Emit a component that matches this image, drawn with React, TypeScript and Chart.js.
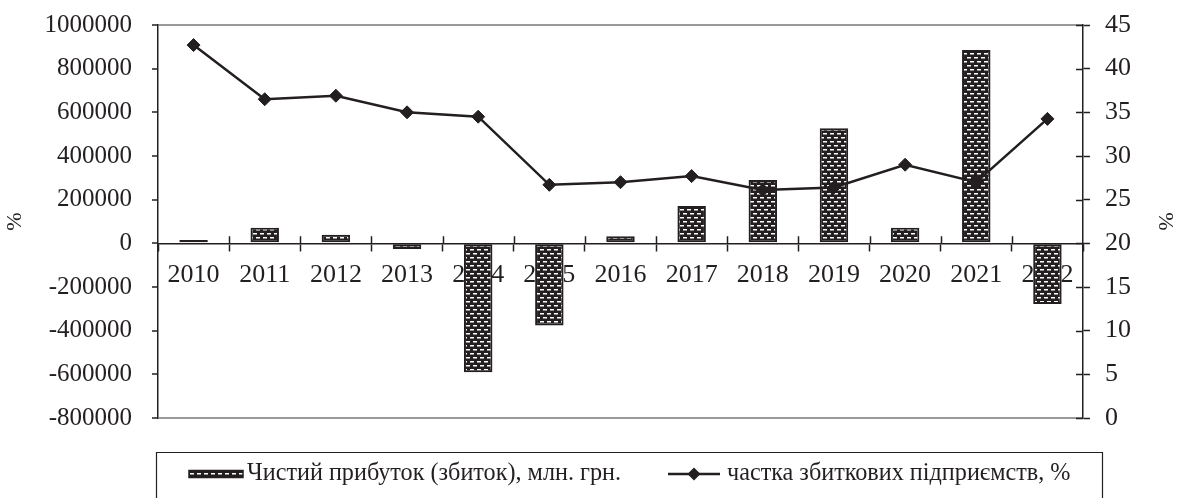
import { useEffect, useRef } from 'react';
import { Chart, registerables } from 'chart.js';

Chart.register(...registerables);

const years = ['2010', '2011', '2012', '2013', '2014', '2015', '2016', '2017', '2018', '2019', '2020', '2021', '2022'];
const netProfit = [15000, 71000, 39000, -26000, -591000, -376000, 33000, 171000, 290000, 527000, 71000, 886000, -278000];
const lossShare = [42.7, 36.5, 36.9, 35.0, 34.5, 26.7, 27.0, 27.7, 26.1, 26.4, 29.0, 27.0, 34.25];
const leftAxis = [-800000, 1000000, 200000];
const rightAxis = [0, 45, 5];
const profitLabel = 'Чистий прибуток (збиток), млн. грн.';
const shareLabel = 'частка збиткових підприємств, %';
const axisTitle = '%';

const INK = '#231f20';
const FONT = '"Liberation Serif", "Times New Roman", serif';

function makePattern(): CanvasPattern | string {
  const pc = document.createElement('canvas');
  pc.width = 14;
  pc.height = 8;
  const p = pc.getContext('2d');
  if (!p) return INK;
  p.fillStyle = INK;
  p.fillRect(0, 0, 14, 8);
  p.fillStyle = '#ffffff';
  p.fillRect(1, 1, 4, 1.5);
  p.fillRect(8, 1, 4, 1.5);
  p.fillRect(0, 5, 1, 1.5);
  p.fillRect(4, 5, 4, 1.5);
  p.fillRect(11, 5, 3, 1.5);
  const pat = p.createPattern(pc, 'repeat');
  return pat || INK;
}

export default function App() {
  const ref = useRef<HTMLCanvasElement>(null);

  useEffect(() => {
    const canvas = ref.current;
    if (!canvas) return;
    const pattern = makePattern();

    const innerTicks = {
      id: 'innerTicks',
      beforeDatasetsDraw(chart: any) {
        const { ctx, chartArea, scales } = chart;
        const x = scales.x;
        const y = scales.y;
        const y1 = scales.y1;
        const zero = y.getPixelForValue(0);
        ctx.save();
        ctx.strokeStyle = INK;
        ctx.lineWidth = 1.5;
        ctx.beginPath();
        for (let i = 1; i < years.length; i++) {
          const px = Math.round((x.getPixelForValue(i) + x.getPixelForValue(i - 1)) / 2) + 0.5;
          ctx.moveTo(px, zero - 7);
          ctx.lineTo(px, zero);
        }
        for (let v = rightAxis[0]; v <= rightAxis[1]; v += rightAxis[2]) {
          const py = Math.round(y1.getPixelForValue(v)) + 0.5;
          ctx.moveTo(chartArea.right - 7, py);
          ctx.lineTo(chartArea.right, py);
        }
        ctx.stroke();
        ctx.restore();
      },
    };

    const legendBox = {
      id: 'legendBox',
      afterDraw(chart: any) {
        const { ctx, chartArea } = chart;
        const left = chartArea.left - 2;
        const right = chartArea.right + 19;
        const top = chartArea.bottom + 34;
        const cy = top + 22;
        ctx.save();
        ctx.strokeStyle = INK;
        ctx.lineWidth = 1.2;
        ctx.beginPath();
        ctx.moveTo(left + 0.5, chart.height + 5);
        ctx.lineTo(left + 0.5, top + 0.5);
        ctx.lineTo(right + 0.5, top + 0.5);
        ctx.lineTo(right + 0.5, chart.height + 5);
        ctx.stroke();

        // bar swatch
        ctx.fillStyle = pattern;
        ctx.fillRect(left + 33, cy - 3.5, 54, 7);
        ctx.lineWidth = 1.5;
        ctx.strokeRect(left + 33, cy - 3.5, 54, 7);

        ctx.textBaseline = 'middle';
        ctx.textAlign = 'left';
        ctx.fillStyle = INK;
        ctx.font = '24.2px ' + FONT;
        ctx.fillText(chart.data.datasets[1].label, left + 91, cy);

        // line + diamond
        const lx = left + 512;
        ctx.lineWidth = 2.5;
        ctx.beginPath();
        ctx.moveTo(lx, cy);
        ctx.lineTo(lx + 52, cy);
        ctx.stroke();
        ctx.beginPath();
        const dx = lx + 26;
        ctx.moveTo(dx, cy - 6.5);
        ctx.lineTo(dx + 6.5, cy);
        ctx.lineTo(dx, cy + 6.5);
        ctx.lineTo(dx - 6.5, cy);
        ctx.closePath();
        ctx.fill();
        ctx.fillText(chart.data.datasets[0].label, left + 571, cy);
        ctx.restore();
      },
    };

    const chart = new Chart(canvas, {
      type: 'bar',
      data: {
        labels: years,
        datasets: [
          {
            type: 'line',
            label: shareLabel,
            data: lossShare,
            yAxisID: 'y1',
            borderColor: INK,
            borderWidth: 2.5,
            pointStyle: 'rectRot',
            pointRadius: 6.5,
            pointBackgroundColor: INK,
            pointBorderColor: INK,
            pointBorderWidth: 1,
            tension: 0,
            order: 0,
          } as any,
          {
            type: 'bar',
            label: profitLabel,
            data: netProfit,
            yAxisID: 'y',
            backgroundColor: pattern as any,
            borderColor: INK,
            borderWidth: 2,
            borderSkipped: false,
            barPercentage: 0.4,
            categoryPercentage: 1,
            order: 1,
          } as any,
        ],
      },
      options: {
        responsive: false,
        animation: false,
        events: [],
        layout: { padding: { top: 25, bottom: 80, left: 0, right: 0 } },
        plugins: {
          legend: { display: false },
          tooltip: { enabled: false },
        },
        scales: {
          x: {
            type: 'category',
            position: { y: 0 } as any,
            offset: true,
            grid: {
              offset: true,
              drawOnChartArea: false,
              tickLength: 7,
              tickColor: INK,
              tickWidth: 1.5,
            },
            border: { display: true, color: INK, width: 1.5 },
            ticks: {
              font: { family: FONT, size: 26 },
              color: INK,
              padding: 9,
              maxRotation: 0,
              autoSkip: false,
            },
          },
          y: {
            position: 'left',
            min: leftAxis[0],
            max: leftAxis[1],
            ticks: {
              stepSize: leftAxis[2],
              font: { family: FONT, size: 25 },
              color: INK,
              padding: 20,
              callback: (v: any) => String(v),
            },
            grid: {
              color: (c: any) =>
                c.tick && (c.tick.value === leftAxis[0] || c.tick.value === leftAxis[1]) ? '#9a9a9a' : 'rgba(0,0,0,0)',
              lineWidth: 2,
              tickColor: INK,
              tickLength: 6,
              tickWidth: 1.5,
            },
            border: { display: true, color: INK, width: 1.5 },
            title: {
              display: true,
              text: axisTitle,
              font: { family: FONT, size: 22 },
              color: INK,
              padding: { top: 2, bottom: 0 },
            },
            afterFit: (s: any) => {
              s.width = 158;
              s.paddingTop = 15;
              s.paddingBottom = 15;
            },
          },
          y1: {
            position: 'right',
            min: rightAxis[0],
            max: rightAxis[1],
            ticks: {
              stepSize: rightAxis[2],
              font: { family: FONT, size: 26 },
              color: INK,
              padding: 15,
            },
            grid: {
              drawOnChartArea: false,
              tickColor: INK,
              tickLength: 7,
              tickWidth: 1.5,
            },
            border: { display: true, color: INK, width: 1.5 },
            title: {
              display: true,
              text: axisTitle,
              font: { family: FONT, size: 22 },
              color: INK,
              padding: 0,
            },
            afterFit: (s: any) => {
              s.width = 95;
              s.paddingTop = 15;
              s.paddingBottom = 15;
            },
          },
        },
      },
      plugins: [innerTicks, legendBox],
    });

    return () => {
      chart.destroy();
    };
  }, []);

  return (
    <div style={{ position: 'absolute', left: 0, top: 0, width: 1178, height: 498, background: '#fff' }}>
      <canvas ref={ref} width={1178} height={498} style={{ display: 'block' }} />
    </div>
  );
}
